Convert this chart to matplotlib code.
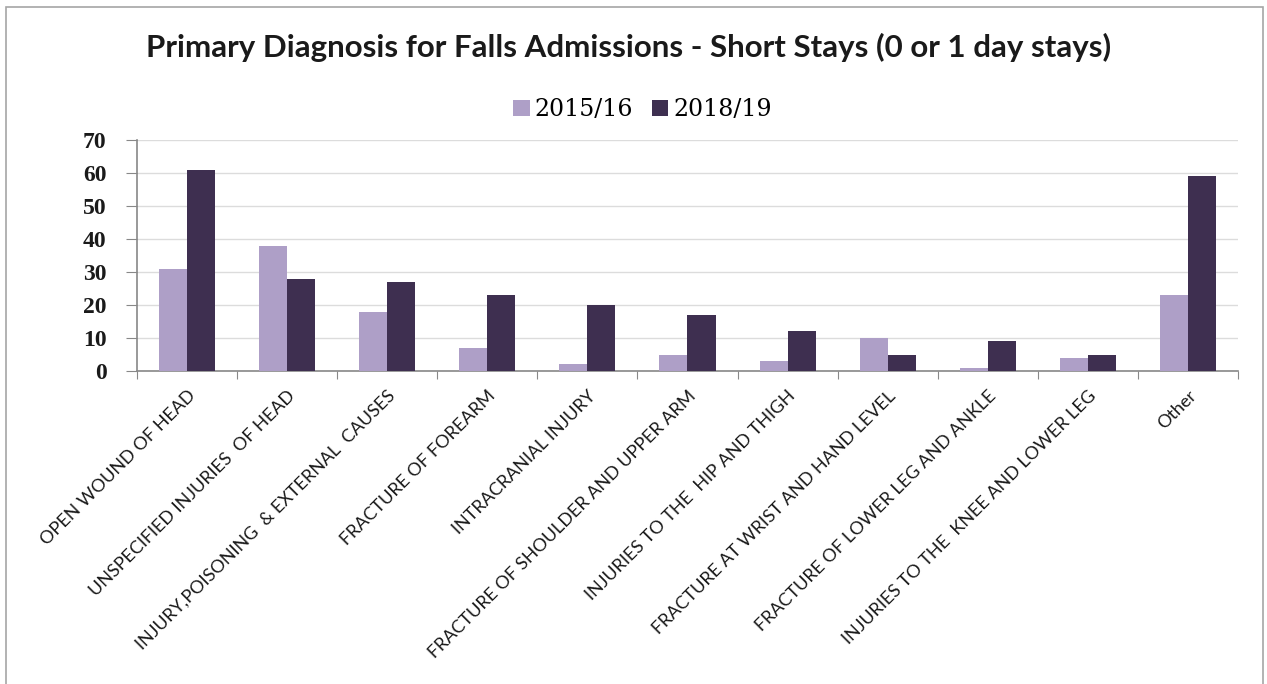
import matplotlib.pyplot as plt
import numpy as np
from matplotlib.patches import Rectangle

# Categories and values
categories = [
    "OPEN WOUND OF HEAD",
    "UNSPECIFIED INJURIES  OF HEAD",
    "INJURY,POISONING  & EXTERNAL  CAUSES",
    "FRACTURE OF FOREARM",
    "INTRACRANIAL INJURY",
    "FRACTURE OF SHOULDER AND UPPER ARM",
    "INJURIES TO THE  HIP AND THIGH",
    "FRACTURE AT WRIST AND HAND LEVEL",
    "FRACTURE OF LOWER LEG AND ANKLE",
    "INJURIES TO THE  KNEE AND LOWER LEG",
    "Other",
]
series_names = ["2015/16", "2018/19"]
values_1516 = [31, 38, 18, 7, 2, 5, 3, 10, 1, 4, 23]
values_1819 = [61, 28, 27, 23, 20, 17, 12, 5, 9, 5, 59]
y_ticks = [0, 10, 20, 30, 40, 50, 60, 70]

title = "Primary Diagnosis for Falls Admissions - Short Stays (0 or 1 day stays)"

light = "#ae9fc7"
dark = "#3e2f50"

fig = plt.figure(figsize=(12.67, 6.84), dpi=100)
ax = fig.add_axes([0.1081, 0.4576, 0.8690, 0.3377])

x = np.arange(len(categories))
w = 0.28
ax.bar(x - w / 2, values_1516, w, color=light, label=series_names[0], zorder=3)
ax.bar(x + w / 2, values_1819, w, color=dark, label=series_names[1], zorder=3)

ax.set_xlim(-0.5, len(categories) - 0.5)
ax.set_ylim(0, 70)
ax.set_yticks(y_ticks)
ax.set_yticklabels([str(v) for v in y_ticks], fontfamily="Liberation Serif",
                   fontweight="bold", fontsize=17, color="#1a1a1a")
ax.yaxis.grid(True, color="#dcdcdc", linewidth=1, zorder=0)

# category boundary ticks, labels at the centres
ax.set_xticks(np.arange(len(categories) + 1) - 0.5)
ax.set_xticklabels([])
ax.set_xticks(x, minor=True)
ax.set_xticklabels(categories, minor=True, rotation=45, ha="right",
                   rotation_mode="anchor", fontfamily="Lato", fontsize=13,
                   color="#1a1a1a")
ax.tick_params(axis="x", which="minor", length=0, pad=12)
ax.tick_params(axis="x", which="major", length=6, color="#888888", direction="out")
ax.tick_params(axis="y", length=8, color="#888888", pad=14)

for s in ["top", "right"]:
    ax.spines[s].set_visible(False)
for s in ["left", "bottom"]:
    ax.spines[s].set_color("#888888")
    ax.spines[s].set_linewidth(1.2)

fig.text(0.496, 0.930, title, ha="center", va="center",
         fontfamily="Lato", fontweight="bold", fontsize=22.5, color="#1a1a1a")

ax.legend(loc="center", bbox_to_anchor=(0.507, 0.8392), bbox_transform=fig.transFigure,
          ncol=2, frameon=False, prop={"family": "DejaVu Serif", "size": 17},
          handlelength=0.7, handleheight=0.7, handletextpad=0.2, columnspacing=0.8)

# outer frame of the chart
fig.patches.append(Rectangle((6 / 1267, -0.05), 1257 / 1267, 1.05 - 7 / 684,
                             transform=fig.transFigure, fill=False,
                             edgecolor="#a6a6a6", linewidth=1.2))

fig.savefig("out.png", dpi=100)
